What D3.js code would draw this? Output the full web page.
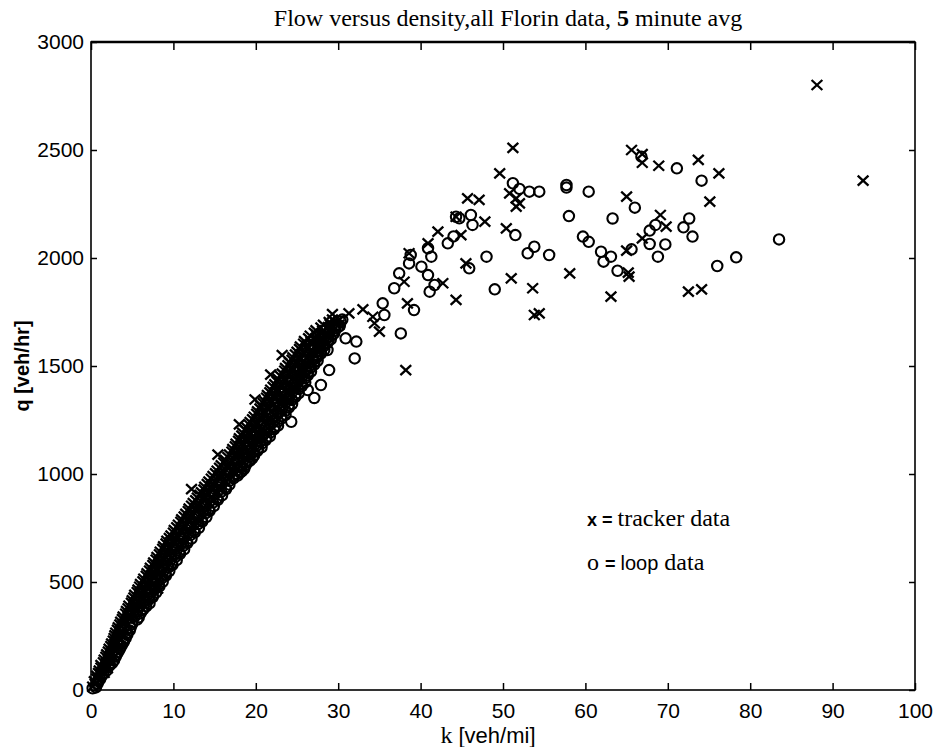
<!DOCTYPE html>
<html>
<head>
<meta charset="utf-8">
<script src="https://cdn.jsdelivr.net/npm/d3@7"></script>
<style>
  html, body { margin: 0; padding: 0; background: #fff; }
  svg { display: block; }
</style>
</head>
<body>
<div id="chart"></div>
<script>
//
// Flow versus density scatter (tracker x / loop o)
//
const xTicks = [0, 10, 20, 30, 40, 50, 60, 70, 80, 90, 100]
const yTicks = [0, 500, 1000, 1500, 2000, 2500, 3000]

// dense part of the cloud, read level by level off the picture  [k, q]
const trackerBand = [
  [0.2,15],[0.4,40],[0.7,65],[1.0,90],[1.5,88],[1.2,115],[1.8,118],[1.6,140],
  [1.9,165],[2.5,162],[2.2,190],[2.9,193],[2.5,215],[2.8,240],[3.5,238],
  [3.0,265],[3.7,268],[3.3,290],[3.6,315],[4.3,312],[3.9,340],[4.6,343],
  [4.3,365],[5.0,362],[4.6,390],[5.3,392],[5.0,415],[5.7,413],[5.3,440],[6.0,444],
  [5.7,465],[6.4,462],[6.0,490],[6.8,493],[6.4,515],[7.1,512],[6.8,540],[7.5,543],
  [7.2,565],[7.9,562],[7.6,590],[8.3,594],[8.0,615],[8.7,612],[8.4,640],[9.1,643],
  [8.8,665],[9.6,662],[9.2,690],[10.0,694],[9.7,715],[10.5,712],[10.1,740],[10.9,743],
  [10.6,765],[11.4,762],[11.0,790],[11.8,794],[11.5,815],[12.3,812],[11.9,840],[12.7,843],
  [12.4,865],[13.2,862],[12.9,890],[13.7,894],[13.4,915],[14.2,912],[13.8,940],[14.6,943],
  [14.3,965],[15.1,962],[14.8,990],[15.6,994],[15.3,1015],[16.1,1012],[15.8,1040],[16.6,1043],
  [16.3,1065],[17.1,1062],[16.8,1090],[17.6,1094],[18.3,1088],[17.2,1115],[18.0,1112],[18.7,1118],
  [17.6,1140],[18.4,1143],[18.0,1165],[18.8,1162],[19.5,1168],[18.4,1190],[19.2,1194],
  [18.9,1215],[19.7,1212],[20.4,1218],[19.3,1240],[20.1,1243],[19.8,1265],[20.6,1262],[21.3,1268],
  [20.2,1290],[21.0,1294],[20.6,1315],[21.4,1312],[22.1,1318],[21.0,1340],[21.8,1343],
  [21.4,1365],[22.2,1362],[23.0,1368],[21.8,1390],[22.6,1394],[22.3,1415],[23.1,1412],[23.9,1418],
  [22.7,1440],[23.5,1443],[23.2,1465],[24.0,1462],[24.8,1468],[23.6,1490],[24.4,1494],
  [24.1,1515],[24.9,1512],[25.7,1518],[24.5,1540],[25.3,1543],[25.0,1565],[25.8,1562],[26.6,1568],
  [25.4,1590],[26.2,1594],[25.9,1615],[26.7,1612],[27.5,1618],[26.6,1640],[27.4,1643],
  [27.3,1665],[28.1,1662],[28.9,1668],[28.2,1690],[29.0,1694],[29.3,1715],[30.1,1712],
  [8.1,470],[12.2,930],[15.4,1090],[18.0,1230],[19.9,1345],[21.8,1460],[23.2,1550]
]
const trackerBandMid = [
  [0.5,28],[0.7,53],[0.9,78],[1.6,80],[1.2,103],[2.0,101],[1.5,128],[2.4,130],
  [1.8,153],[2.7,151],[2.1,178],[3.0,180],[2.4,203],[3.3,201],[2.7,228],[3.6,230],
  [2.9,253],[3.8,251],[3.2,278],[4.1,280],[3.5,303],[4.4,301],[3.8,328],[4.7,330],
  [4.2,353],[5.1,351],[4.5,378],[5.4,380],[4.9,403],[5.8,401],[5.2,428],[6.1,430],
  [5.6,453],[6.5,451],[5.9,478],[6.8,480],[6.3,503],[7.2,501],[6.7,528],[7.6,530],
  [7.1,553],[8.0,551],[7.5,578],[8.4,580],[7.9,603],[8.8,601],[8.3,628],[9.2,630],
  [8.7,653],[9.6,651],[9.1,678],[10.0,680],[9.5,703],[10.4,701],[10.0,728],[10.9,730],
  [10.4,753],[11.3,751],[10.9,778],[11.8,780],[11.3,803],[12.2,801],[11.8,828],[12.7,830],
  [12.2,853],[13.1,851],[12.7,878],[13.6,880],[13.2,903],[14.1,901],[13.7,928],[14.6,930],
  [14.1,953],[15.0,951],[14.6,978],[15.5,980],[15.1,1003],[16.0,1001],[15.6,1028],[16.5,1030],
  [16.1,1053],[17.0,1051],[16.6,1078],[17.5,1080],[17.1,1103],[18.0,1101],[17.5,1128],[18.4,1130],
  [17.9,1153],[18.8,1151],[18.3,1178],[19.2,1180],[18.7,1203],[19.6,1201],[19.2,1228],[20.1,1230],
  [19.6,1253],[20.5,1251],[20.1,1278],[21.0,1280],[20.5,1303],[21.4,1301],[20.9,1328],[21.8,1330],
  [21.3,1353],[22.2,1351],[21.7,1378],[22.6,1380],[22.1,1403],[23.0,1401],[22.6,1428],[23.5,1430],
  [23.0,1453],[23.9,1451],[23.5,1478],[24.4,1480],[23.9,1503],[24.8,1501],[24.4,1528],[25.3,1530],
  [24.8,1553],[25.7,1551],[25.3,1578],[26.2,1580],[25.8,1603],[26.7,1601],[26.4,1628],[27.3,1630],
  [27.1,1653],[28.0,1651],[27.9,1678],[28.8,1680],[28.9,1703],[29.7,1701]
]
const loopBand = [
  [0.2,8],[0.6,12],[0.9,40],[1.3,65],[1.9,90],[2.3,115],[2.2,140],[2.8,138],
  [3.1,165],[3.5,190],[3.2,215],[3.9,218],[4.2,240],[4.4,265],[4.0,290],[4.8,288],
  [5.0,315],[5.3,340],[5.8,337],[5.6,365],[6.2,368],[6.0,390],[6.7,387],[6.4,415],[7.0,418],
  [6.8,440],[7.5,437],[7.1,465],[7.8,468],[7.5,490],[8.2,487],[7.8,515],[8.6,518],
  [8.2,540],[9.0,537],[8.6,565],[9.4,568],[9.0,590],[9.8,587],[9.4,615],[10.3,618],
  [9.8,640],[10.7,637],[10.3,665],[11.2,668],[10.7,690],[11.6,687],[11.2,715],[12.1,718],
  [11.6,740],[12.5,737],[12.1,765],[13.0,768],[12.5,790],[13.4,787],[13.0,815],[13.9,818],
  [13.4,840],[14.3,837],[13.9,865],[14.8,868],[14.4,890],[15.3,887],[14.9,915],[15.8,918],
  [15.3,940],[16.3,937],[15.8,965],[16.8,968],[16.3,990],[17.2,987],[17.8,993],
  [16.9,1015],[17.7,1018],[18.3,1012],[17.3,1040],[18.1,1037],[18.8,1043],
  [17.8,1065],[18.6,1068],[19.3,1062],[19.0,1090],[19.8,1087],[19.4,1115],[20.3,1118],
  [19.1,1140],[19.9,1137],[20.8,1143],[20.3,1165],[21.3,1168],[20.0,1190],[20.8,1187],[21.8,1193],
  [21.2,1215],[22.3,1218],[20.9,1240],[21.7,1237],[22.7,1243],[22.1,1265],[23.1,1268],
  [21.8,1290],[22.6,1287],[23.6,1293],[22.9,1315],[24.0,1318],[22.6,1340],[23.4,1337],[24.4,1343],
  [23.8,1365],[24.8,1368],[23.4,1390],[24.2,1387],[25.2,1393],[24.6,1415],[25.6,1418],
  [24.3,1440],[25.1,1437],[26.0,1443],[25.5,1465],[26.3,1468],[25.2,1490],[26.0,1487],[26.7,1493],
  [26.4,1515],[27.1,1518],[26.1,1540],[26.9,1537],[27.5,1543],[27.3,1565],[27.9,1568],
  [27.0,1590],[27.7,1587],[28.3,1593],[28.2,1615],[28.8,1618],[28.1,1640],[28.8,1637],[29.3,1643],
  [29.6,1665],[29.7,1690],[30.2,1687],[30.5,1715],[9.6,690]
]
const loopBandMid = [
  [0.8,30],[1.1,50],[1.5,75],[2.1,106],[2.6,126],[3.0,155],[3.3,176],[3.7,205],
  [4.0,226],[4.4,255],[4.7,276],[5.0,305],[5.6,326],[6.0,355],[6.4,376],
  [6.7,405],[7.1,401],[7.1,426],[7.5,430],[7.4,455],[7.9,451],[7.8,476],[8.3,480],
  [8.1,505],[8.7,501],[8.5,526],[9.1,530],[8.9,555],[9.5,551],[9.3,576],[9.9,580],
  [9.7,605],[10.4,601],[10.1,626],[10.8,630],[10.5,655],[11.3,651],[10.9,676],[11.7,680],
  [11.3,705],[12.2,701],[11.8,726],[12.6,730],[12.2,755],[13.1,751],[12.7,776],[13.5,780],
  [13.1,805],[14.0,801],[13.6,826],[14.4,830],[14.0,855],[14.9,851],[14.5,876],[15.4,880],
  [15.0,905],[15.9,901],[15.5,926],[16.4,930],[15.9,955],[16.8,951],[16.4,976],[17.3,980],
  [16.9,1005],[17.7,1001],[18.1,1007],[17.4,1026],[18.2,1030],[18.6,1024],
  [17.9,1055],[18.7,1051],[19.1,1057],[18.4,1076],[19.2,1080],[19.6,1074],
  [18.9,1105],[19.7,1101],[20.2,1107],[19.3,1126],[20.1,1130],[20.7,1124],
  [19.7,1155],[20.5,1151],[21.2,1157],[20.1,1176],[20.9,1180],[21.7,1174],
  [20.5,1205],[21.4,1201],[22.2,1207],[21.0,1226],[21.8,1230],[22.7,1224],
  [21.4,1255],[22.3,1251],[23.1,1257],[21.9,1276],[22.7,1280],[23.6,1274],
  [22.3,1305],[23.2,1301],[24.0,1307],[22.7,1326],[23.6,1330],[24.4,1324],
  [23.1,1355],[24.0,1351],[24.8,1357],[23.5,1376],[24.4,1380],[25.2,1374],
  [23.9,1405],[24.8,1401],[25.6,1407],[24.4,1426],[25.2,1430],[26.0,1424],
  [24.8,1455],[25.6,1451],[26.3,1457],[25.3,1476],[26.1,1480],[26.7,1474],
  [25.7,1505],[26.5,1501],[27.1,1507],[26.2,1526],[27.0,1530],[27.5,1524],
  [26.6,1555],[27.4,1551],[27.9,1557],[27.1,1576],[27.8,1580],[28.3,1574],
  [27.6,1605],[28.2,1601],[28.7,1607],[28.2,1626],[28.7,1630],[29.1,1624],
  [28.9,1655],[29.5,1651],[29.6,1676],[30.0,1680],[30.3,1705]
]

// scattered points above k = 28
const trackerScatter = [
  [29.3,1740],[30.1,1690],[31.3,1744],[33.0,1762],[34.2,1728],[34.4,1698],[35.0,1659],
  [38.2,1481],[38.4,1790],[38.0,1890],[38.6,2022],[40.9,2068],[42.1,2122],[42.7,1883],
  [44.3,1806],[44.3,2191],[44.9,2106],[45.5,1975],[45.7,2276],[47.1,2269],[47.8,2168],
  [49.6,2392],[50.4,2137],[50.8,2299],[51.2,2510],[51.6,2276],[52.0,2253],[51.6,2238],
  [51.0,1906],[53.6,1860],[53.8,1736],[54.4,1744],[58.1,1929],[63.1,1821],[65.0,2284],
  [65.6,2500],[66.9,2481],[66.9,2441],[68.9,2427],[73.7,2454],[76.2,2392],[75.1,2261],
  [69.1,2199],[69.8,2145],[66.9,2091],[65.0,2034],[65.3,1914],[65.2,1932],[72.5,1844],
  [74.1,1855],[93.7,2358],[88.1,2801]
]
const loopScatter = [
  [24.3,1242],[26.3,1389],[27.1,1352],[27.9,1412],[28.7,1574],[28.9,1481],[30.9,1628],
  [32.0,1535],[32.2,1613],[35.4,1790],[35.6,1736],[36.8,1860],[37.6,1651],[37.4,1929],
  [38.8,2014],[38.6,1975],[39.2,1759],[40.1,1960],[40.9,1921],[40.9,2045],[41.3,2006],
  [41.7,1875],[41.1,1844],[43.3,2068],[44.0,2100],[44.3,2191],[44.7,2184],[46.1,2199],
  [46.3,2153],[45.9,1952],[48.0,2006],[49.0,1855],[51.2,2346],[52.0,2320],[53.2,2307],
  [54.4,2307],[51.5,2106],[53.0,2022],[53.8,2052],[55.6,2014],[57.7,2338],[57.7,2326],
  [58.0,2194],[60.4,2307],[59.7,2099],[60.4,2075],[61.9,2029],[62.2,1983],[63.3,2183],
  [63.1,2006],[63.9,1941],[65.6,2040],[66.0,2233],[66.8,2469],[67.8,2127],[67.8,2065],
  [68.5,2153],[68.8,2006],[69.7,2063],[71.1,2415],[71.9,2142],[72.6,2183],[73.0,2099],
  [74.1,2358],[76.0,1963],[78.3,2003],[83.5,2086]
]

const width = 935
const height = 747
const margin = { left: 91, right: 20, top: 42, bottom: 57 }

let svg = d3.select("#chart")
  .append("svg")
    .attr("width", width)
    .attr("height", height)

let x = d3.scaleLinear()
  .domain([0, 100])
  .range([margin.left, width - margin.right])
let y = d3.scaleLinear()
  .domain([0, 3000])
  .range([height - margin.bottom, margin.top])

const sans = "'Liberation Sans', Arial, Helvetica, sans-serif"
const serif = "'Liberation Serif', 'Times New Roman', serif"

// frame
svg.append("rect")
  .attr("x", x(0)).attr("y", y(3000))
  .attr("width", x(100) - x(0)).attr("height", y(0) - y(3000))
  .attr("fill", "none").attr("stroke", "#000").attr("stroke-width", 1.6)
svg.append("line")
  .attr("x1", x(0)).attr("x2", x(100))
  .attr("y1", y(3000)).attr("y2", y(3000))
  .attr("stroke", "#000").attr("stroke-width", 2.4)

// axes with inward ticks
let gx = svg.append("g")
  .attr("transform", "translate(0," + y(0) + ")")
  .call(d3.axisBottom(x).tickValues(xTicks).tickSizeInner(-7).tickSizeOuter(0)
    .tickPadding(13).tickFormat(d3.format("d")))
let gy = svg.append("g")
  .attr("transform", "translate(" + x(0) + ",0)")
  .call(d3.axisLeft(y).tickValues(yTicks).tickSizeInner(-6).tickSizeOuter(0)
    .tickPadding(7).tickFormat(d3.format("d")))
svg.append("g")
  .attr("transform", "translate(0," + y(3000) + ")")
  .call(d3.axisTop(x).tickValues(xTicks).tickSizeInner(-8).tickSizeOuter(0).tickFormat(""))
svg.append("g")
  .attr("transform", "translate(" + x(100) + ",0)")
  .call(d3.axisRight(y).tickValues(yTicks).tickSizeInner(-6).tickSizeOuter(0).tickFormat(""))

svg.selectAll(".domain").remove()
svg.selectAll(".tick line").attr("stroke", "#000").attr("stroke-width", 1.5)
;[gx, gy].forEach(function(g) {
  g.selectAll("text")
    .style("font-family", sans)
    .style("font-size", "21px")
    .attr("fill", "#000")
})

// markers
let marks = svg.append("g")
function addCross(data) {
  marks.selectAll(null)
    .data(data)
    .enter()
    .append("path")
      .attr("d", "M-5.4,-5L5.4,5M-5.4,5L5.4,-5")
      .attr("transform", function(d) { return "translate(" + x(d[0]) + "," + y(d[1]) + ")" })
      .attr("fill", "none")
      .attr("stroke", "#000")
      .attr("stroke-width", 2.3)
}
function addRing(data) {
  marks.selectAll(null)
    .data(data)
    .enter()
    .append("circle")
      .attr("cx", function(d) { return x(d[0]) })
      .attr("cy", function(d) { return y(d[1]) })
      .attr("r", 5.2)
      .attr("fill", "none")
      .attr("stroke", "#000")
      .attr("stroke-width", 2.1)
}
addRing(loopBand)
addRing(loopBandMid)
addCross(trackerBand)
addCross(trackerBandMid)
addRing(loopScatter)
addCross(trackerScatter)

// title
let title = svg.append("text")
  .attr("x", 508).attr("y", 26)
  .attr("text-anchor", "middle")
  .style("font-family", serif)
  .style("font-size", "24px")
title.append("tspan").text("Flow versus density,all Florin data, ")
title.append("tspan").attr("font-weight", "bold").text("5")
title.append("tspan").text(" minute avg")

// axis titles
let xt = svg.append("text")
  .attr("x", 488).attr("y", 743)
  .attr("text-anchor", "middle")
xt.append("tspan").style("font-family", serif).style("font-size", "24px").text("k ")
xt.append("tspan").style("font-family", sans).style("font-size", "22px").text("[veh/mi]")

svg.append("text")
  .attr("transform", "translate(29," + y(1500) + ") rotate(-90)")
  .attr("text-anchor", "middle")
  .style("font-family", sans)
  .style("font-size", "20px")
  .style("font-weight", "bold")
  .text("q [veh/hr]")

// legend
let l1 = svg.append("text").attr("x", 587).attr("y", 526)
l1.append("tspan").style("font-family", sans).style("font-weight", "bold").style("font-size", "18px").text("x = ")
l1.append("tspan").style("font-family", serif).style("font-size", "24px").text("tracker data")
let l2 = svg.append("text").attr("x", 587).attr("y", 570)
l2.append("tspan").style("font-family", serif).style("font-size", "24px").text("o ")
l2.append("tspan").style("font-family", sans).style("font-weight", "bold").style("font-size", "18px").text("= ")
l2.append("tspan").style("font-family", sans).style("font-size", "20px").text("loop")
l2.append("tspan").style("font-family", serif).style("font-size", "24px").text(" data")
</script>
</body>
</html>
